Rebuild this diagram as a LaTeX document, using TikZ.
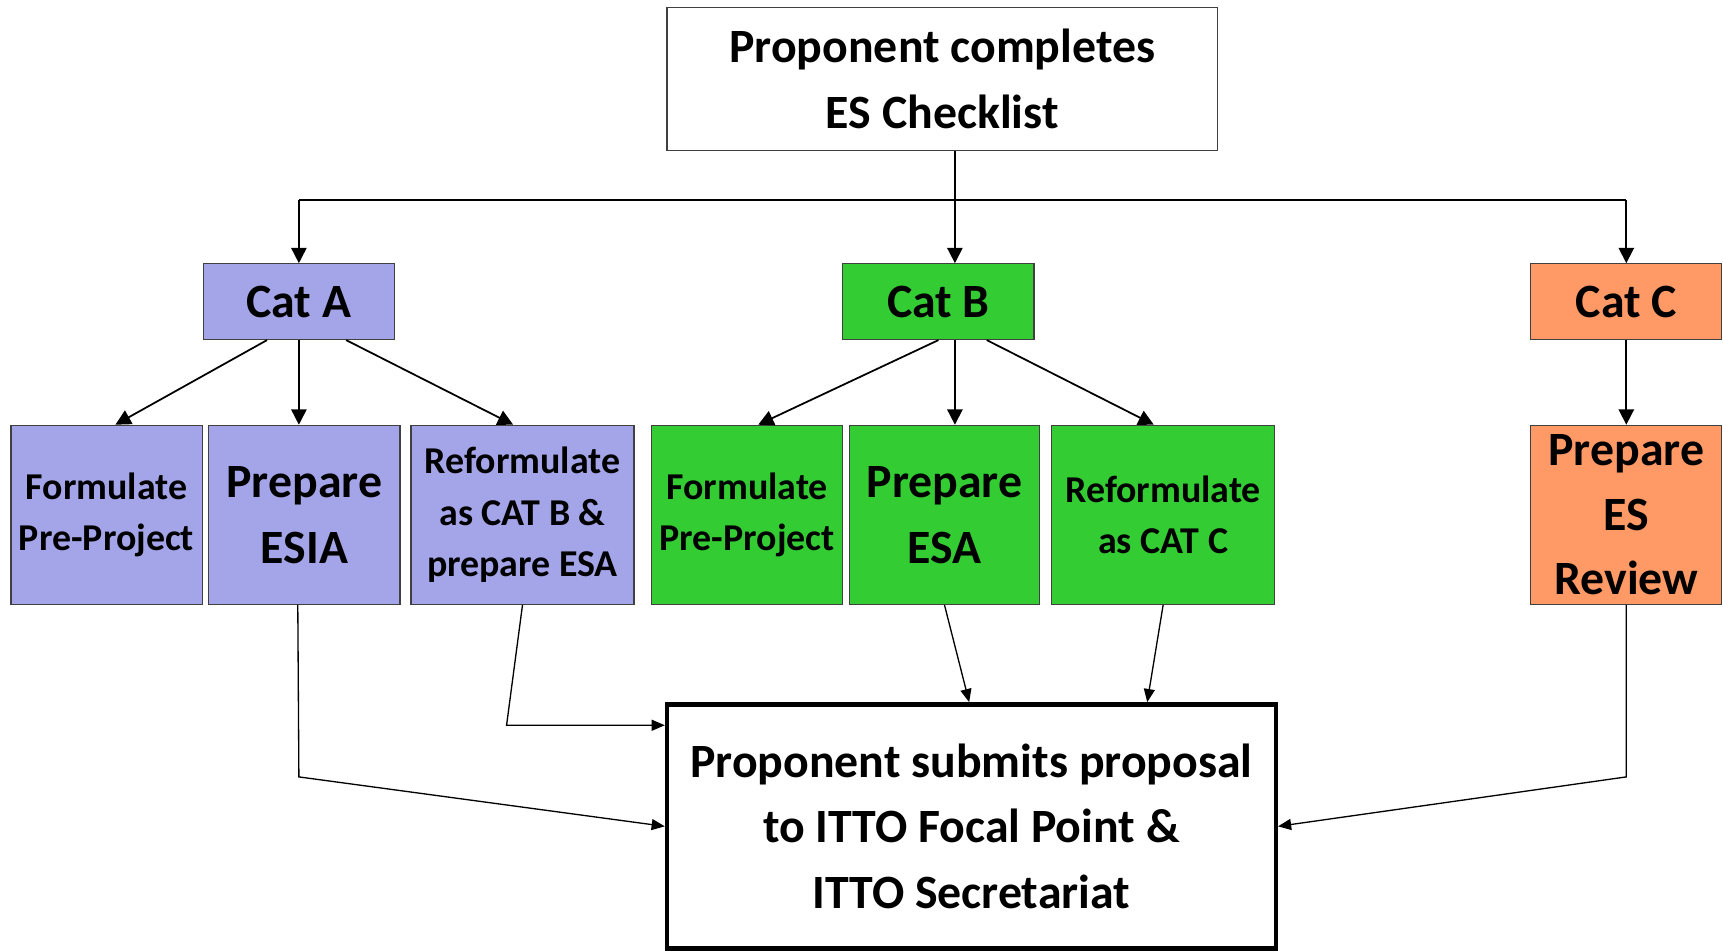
\documentclass[tikz,border=0pt]{standalone}
\usepackage{fontspec}
\setmainfont{Carlito}
\usetikzlibrary{arrows.meta,calc}
\definecolor{cA}{RGB}{164,164,232}
\definecolor{cB}{RGB}{51,204,51}
\definecolor{cC}{RGB}{255,153,102}
\definecolor{bd}{RGB}{64,64,64}
\begin{document}
\begin{tikzpicture}[x=1pt,y=-1pt,
  box/.style={draw=bd, line width=1pt, inner sep=0pt, align=center, font=\bfseries\fontsize{43.5}{60}\selectfont},
  sbox/.style={box, font=\bfseries\fontsize{34.5}{47}\selectfont},
  conn/.style={line width=1.6pt},
  arr/.style={line width=1.6pt, -{Triangle[length=14pt,width=14pt]}},
  arrl/.style={line width=1.2pt, -{Triangle[length=12pt,width=10pt]}}]
\useasboundingbox (0,0) rectangle (1568,865);
% top
\node[box, fill=white, minimum width=501pt, minimum height=130pt] (top) at (857.5,72) {Proponent completes\\ES Checklist};
% categories
\node[box, fill=cA, minimum width=174pt, minimum height=69pt] (catA) at (272,274.5) {Cat A};
\node[box, fill=cB, minimum width=174pt, minimum height=69pt] (catB) at (854,274.5) {Cat B};
\node[box, fill=cC, minimum width=174pt, minimum height=69pt] (catC) at (1480,274.5) {Cat C};
% second row
\node[sbox, fill=cA, minimum width=174pt, minimum height=163pt] (a1) at (97,468.5) {Formulate\\Pre-Project};
\node[box, fill=cA, minimum width=174pt, minimum height=163pt] (a2) at (277,468.5) {Prepare\\ESIA};
\node[sbox, fill=cA, minimum width=203pt, minimum height=163pt] (a3) at (475.5,468.5) {Reformulate\\as CAT B \&\\prepare ESA};
\node[sbox, fill=cB, minimum width=174pt, minimum height=163pt] (b1) at (680,468.5) {Formulate\\Pre-Project};
\node[box, fill=cB, minimum width=173pt, minimum height=163pt] (b2) at (859.5,468.5) {Prepare\\ESA};
\node[sbox, fill=cB, minimum width=203pt, minimum height=163pt] (b3) at (1058.5,468.5) {Reformulate\\as CAT C};
\node[box, fill=cC, minimum width=174pt, minimum height=163pt, font=\bfseries\fontsize{43.5}{59}\selectfont] (c1) at (1480,468.5) {Prepare\\ES\\Review};
% bottom
\node[box, draw=black, line width=4pt, fill=white, minimum width=554pt, minimum height=222pt] (bot) at (884,752) {Proponent submits proposal\\to ITTO Focal Point \&\\ITTO Secretariat};
% top connectors
\coordinate (bx) at (869,0);
\coordinate (hl) at (272,182);
\coordinate (hr) at (1480,182);
\draw[arr] (top.south -| bx) -- (catB.north -| bx);
\draw[conn] (hl) -- (hr);
\draw[arr] (hl) -- (catA.north);
\draw[arr] (hr) -- (catC.north);
% category to second row
\draw[arr] ([xshift=-29pt]catA.south) -- ([xshift=8pt]a1.north);
\draw[arr] (catA.south) -- (catA.south |- a2.north);
\draw[arr] ([xshift=43pt]catA.south) -- ([xshift=-8.5pt]a3.north);
\draw[arr] (catB.south) -- ([xshift=10pt]b1.north);
\draw[arr] (catB.south -| bx) -- (b2.north -| bx);
\draw[arr] ([xshift=44pt]catB.south) -- ([xshift=-8.5pt]b3.north);
\draw[arr] (catC.south) -- (c1.north);
% lower connectors
\coordinate (c1a) at (272,707);
\coordinate (c2a) at (461,660);
\coordinate (c3a) at (1480,707);
\draw[arrl] ([xshift=-6pt]a2.south) -- (c1a) -- (bot.west);
\draw[arrl] (a3.south) -- (c2a) -- (bot.west |- c2a);
\draw[arrl] (b2.south) -- ([xshift=-2pt]bot.north);
\draw[arrl] (b3.south) -- ([xshift=160pt]bot.north);
\draw[arrl] (c1.south) -- (c3a) -- (bot.east);
\end{tikzpicture}
\end{document}
